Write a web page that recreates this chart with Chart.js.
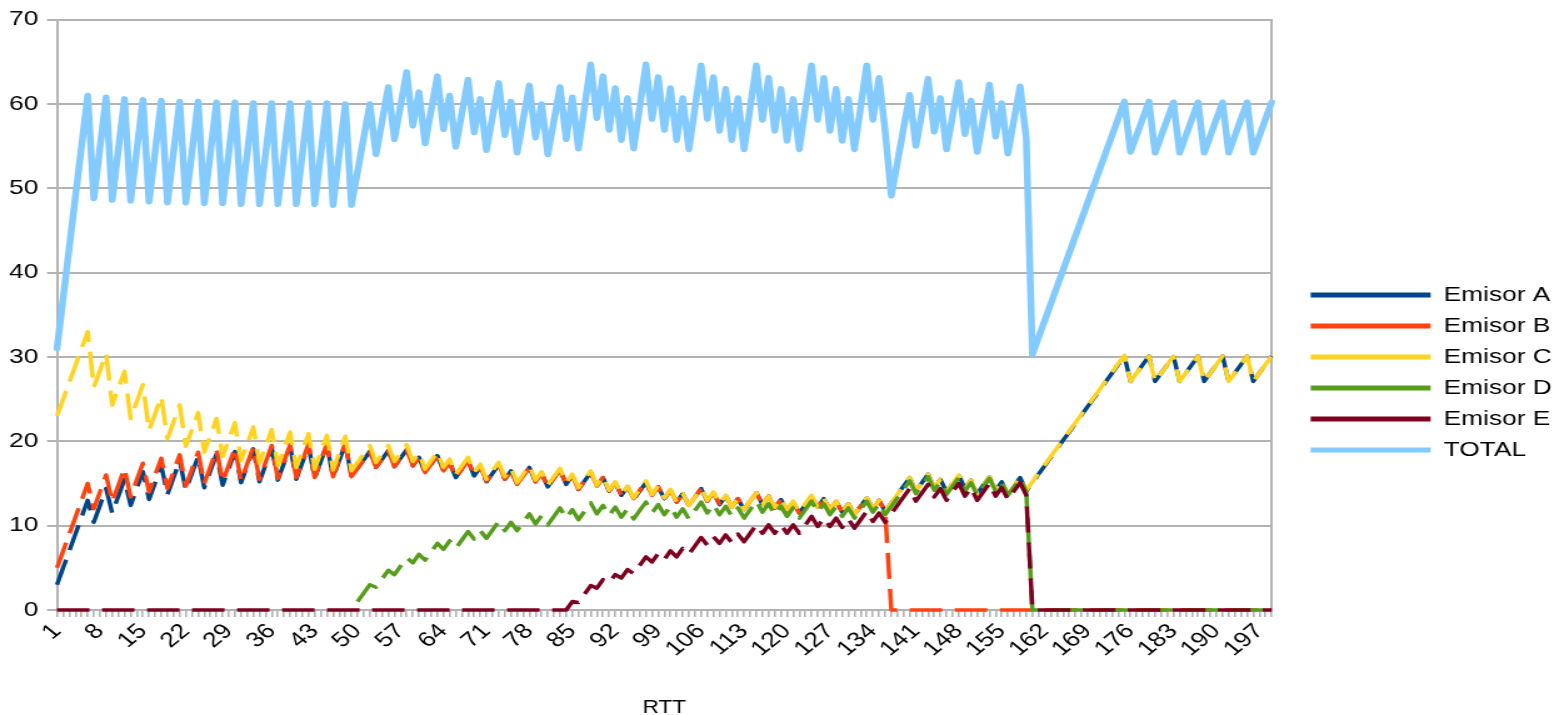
<!DOCTYPE html>
<html>
<head>
<meta charset="utf-8">
<title>Ventana de congestión por RTT</title>
<script src="https://cdn.jsdelivr.net/npm/chart.js@4.4.1/dist/chart.umd.min.js"></script>
<style>
    html, body { margin: 0; padding: 0; background: #ffffff; overflow: hidden; }
    /* the reference is stretched sideways, so the canvas is drawn narrower and widened */
    #marco { width: 1243px; height: 715px; transform: scaleX(1.2502); transform-origin: 0 0; }
</style>
</head>
<body>
<div id="marco"><canvas id="grafico"></canvas></div>
<script>
// ==============================
// Datos
// ==============================
const rtt = [
    1, 2, 3, 4, 5, 6, 7, 8, 9, 10, 11, 12, 13, 14, 15, 16, 17, 18, 19, 20,
    21, 22, 23, 24, 25, 26, 27, 28, 29, 30, 31, 32, 33, 34, 35, 36, 37, 38, 39, 40,
    41, 42, 43, 44, 45, 46, 47, 48, 49, 50, 51, 52, 53, 54, 55, 56, 57, 58, 59, 60,
    61, 62, 63, 64, 65, 66, 67, 68, 69, 70, 71, 72, 73, 74, 75, 76, 77, 78, 79, 80,
    81, 82, 83, 84, 85, 86, 87, 88, 89, 90, 91, 92, 93, 94, 95, 96, 97, 98, 99, 100,
    101, 102, 103, 104, 105, 106, 107, 108, 109, 110, 111, 112, 113, 114, 115, 116, 117, 118, 119, 120,
    121, 122, 123, 124, 125, 126, 127, 128, 129, 130, 131, 132, 133, 134, 135, 136, 137, 138, 139, 140,
    141, 142, 143, 144, 145, 146, 147, 148, 149, 150, 151, 152, 153, 154, 155, 156, 157, 158, 159, 160,
    161, 162, 163, 164, 165, 166, 167, 168, 169, 170, 171, 172, 173, 174, 175, 176, 177, 178, 179, 180,
    181, 182, 183, 184, 185, 186, 187, 188, 189, 190, 191, 192, 193, 194, 195, 196, 197, 198, 199
];

const emisorA = [
    3, 5, 7, 9, 11, 13, 10.4, 12.4, 14.4, 11.5,
    13.5, 15.5, 12.4, 14.4, 16.4, 13.1, 15.1, 17.1, 13.7, 15.7,
    17.7, 14.2, 16.2, 18.2, 14.5, 16.5, 18.5, 14.8, 16.8, 18.8,
    15.1, 17.1, 19.1, 15.2, 17.2, 19.2, 15.4, 17.4, 19.4, 15.5,
    17.5, 19.5, 15.6, 17.6, 19.6, 15.7, 17.7, 19.7, 15.8, 16.8,
    17.8, 18.8, 16.9, 17.9, 18.9, 17.0, 18.0, 19.0, 17.1, 18.1,
    16.3, 17.3, 18.3, 16.5, 17.5, 15.7, 16.7, 17.7, 15.9, 16.9,
    15.2, 16.2, 17.2, 15.5, 16.5, 14.9, 15.9, 16.9, 15.2, 16.2,
    14.6, 15.6, 16.6, 14.9, 15.9, 14.3, 15.3, 16.3, 14.7, 15.7,
    14.1, 15.1, 13.6, 14.6, 13.1, 14.1, 15.1, 13.6, 14.6, 13.2,
    14.2, 12.8, 13.8, 12.4, 13.4, 14.4, 12.9, 13.9, 12.5, 13.5,
    12.2, 13.2, 11.9, 12.9, 13.9, 12.5, 13.5, 12.1, 13.1, 11.8,
    12.8, 11.5, 12.5, 13.5, 12.2, 13.2, 11.9, 12.9, 11.6, 12.6,
    11.3, 12.3, 13.3, 12.0, 13.0, 11.7, 12.7, 13.7, 14.7, 15.7,
    14.1, 15.1, 16.1, 14.5, 15.5, 14.0, 15.0, 16.0, 14.4, 15.4,
    13.8, 14.8, 15.8, 14.2, 15.2, 13.7, 14.7, 15.7, 14.1, 15.1,
    16.1, 17.1, 18.1, 19.1, 20.1, 21.1, 22.1, 23.1, 24.1, 25.1,
    26.1, 27.1, 28.1, 29.1, 30.1, 27.1, 28.1, 29.1, 30.1, 27.1,
    28.1, 29.1, 30.1, 27.1, 28.1, 29.1, 30.1, 27.1, 28.1, 29.1,
    30.1, 27.1, 28.1, 29.1, 30.1, 27.1, 28.1, 29.1, 30.1
];

const emisorB = [
    5, 7, 9, 11, 13, 15, 12, 14, 16, 12.8,
    14.8, 16.8, 13.4, 15.4, 17.4, 14.0, 16.0, 18.0, 14.4, 16.4,
    18.4, 14.7, 16.7, 18.7, 15.0, 17.0, 19.0, 15.2, 17.2, 19.2,
    15.3, 17.3, 19.3, 15.5, 17.5, 19.5, 15.6, 17.6, 19.6, 15.7,
    17.7, 19.7, 15.7, 17.7, 19.7, 15.8, 17.8, 19.8, 15.8, 16.8,
    17.8, 18.8, 16.9, 17.9, 18.9, 17.0, 18.0, 19.0, 17.1, 18.1,
    16.3, 17.3, 18.3, 16.5, 17.5, 15.7, 16.7, 17.7, 16.0, 17.0,
    15.3, 16.3, 17.3, 15.5, 16.5, 14.9, 15.9, 16.9, 15.2, 16.2,
    14.6, 15.6, 16.6, 14.9, 15.9, 14.3, 15.3, 16.3, 14.7, 15.7,
    14.1, 15.1, 13.6, 14.6, 13.2, 14.2, 15.2, 13.6, 14.6, 13.2,
    14.2, 12.8, 13.8, 12.4, 13.4, 14.4, 12.9, 13.9, 12.6, 13.6,
    12.2, 13.2, 11.9, 12.9, 13.9, 12.5, 13.5, 12.1, 13.1, 11.8,
    12.8, 11.5, 12.5, 13.5, 12.2, 13.2, 11.9, 12.9, 11.6, 12.6,
    11.3, 12.3, 13.3, 12.0, 13.0, 11.7, 0, 0, 0, 0,
    0, 0, 0, 0, 0, 0, 0, 0, 0, 0,
    0, 0, 0, 0, 0, 0, 0, 0, 0, 0,
    0, 0, 0, 0, 0, 0, 0, 0, 0, 0,
    0, 0, 0, 0, 0, 0, 0, 0, 0, 0,
    0, 0, 0, 0, 0, 0, 0, 0, 0, 0,
    0, 0, 0, 0, 0, 0, 0, 0, 0
];

const emisorC = [
    23, 25, 27, 29, 31, 33, 26.4, 28.4, 30.4, 24.3,
    26.3, 28.3, 22.7, 24.7, 26.7, 21.3, 23.3, 25.3, 20.3, 22.3,
    24.3, 19.4, 21.4, 23.4, 18.7, 20.7, 22.7, 18.2, 20.2, 22.2,
    17.7, 19.7, 21.7, 17.4, 19.4, 21.4, 17.1, 19.1, 21.1, 16.9,
    18.9, 20.9, 16.7, 18.7, 20.7, 16.6, 18.6, 20.6, 16.5, 17.5,
    18.5, 19.5, 17.5, 18.5, 19.5, 17.6, 18.6, 19.6, 17.6, 18.6,
    16.7, 17.7, 18.7, 16.9, 17.9, 16.1, 17.1, 18.1, 16.3, 17.3,
    15.5, 16.5, 17.5, 15.8, 16.8, 15.1, 16.1, 17.1, 15.4, 16.4,
    14.8, 15.8, 16.8, 15.1, 16.1, 14.5, 15.5, 16.5, 14.8, 15.8,
    14.2, 15.2, 13.7, 14.7, 13.3, 14.3, 15.3, 13.7, 14.7, 13.3,
    14.3, 12.8, 13.8, 12.4, 13.4, 14.4, 13.0, 14.0, 12.6, 13.6,
    12.2, 13.2, 11.9, 12.9, 13.9, 12.5, 13.5, 12.2, 13.2, 11.9,
    12.9, 11.6, 12.6, 13.6, 12.2, 13.2, 11.9, 12.9, 11.6, 12.6,
    11.3, 12.3, 13.3, 12.0, 13.0, 11.7, 12.7, 13.7, 14.7, 15.7,
    14.1, 15.1, 16.1, 14.5, 15.5, 14.0, 15.0, 16.0, 14.4, 15.4,
    13.8, 14.8, 15.8, 14.3, 15.3, 13.7, 14.7, 15.7, 14.2, 15.2,
    16.2, 17.2, 18.2, 19.2, 20.2, 21.2, 22.2, 23.2, 24.2, 25.2,
    26.2, 27.2, 28.2, 29.2, 30.2, 27.1, 28.1, 29.1, 30.1, 27.1,
    28.1, 29.1, 30.1, 27.1, 28.1, 29.1, 30.1, 27.1, 28.1, 29.1,
    30.1, 27.1, 28.1, 29.1, 30.1, 27.1, 28.1, 29.1, 30.1
];

// D no existe hasta el RTT 50
const emisorD = [
    null, null, null, null, null, null, null, null, null, null,
    null, null, null, null, null, null, null, null, null, null,
    null, null, null, null, null, null, null, null, null, null,
    null, null, null, null, null, null, null, null, null, null,
    null, null, null, null, null, null, null, null, null, 1,
    2, 3, 2.7, 3.7, 4.7, 4.2, 5.2, 6.2, 5.6, 6.6,
    5.9, 6.9, 7.9, 7.2, 8.2, 7.3, 8.3, 9.3, 8.4, 9.4,
    8.5, 9.5, 10.5, 9.4, 10.4, 9.4, 10.4, 11.4, 10.2, 11.2,
    10.1, 11.1, 12.1, 10.9, 11.9, 10.7, 11.7, 12.7, 11.4, 12.4,
    11.2, 12.2, 11.0, 12.0, 10.8, 11.8, 12.8, 11.5, 12.5, 11.3,
    12.3, 11.0, 12.0, 10.8, 11.8, 12.8, 11.5, 12.5, 11.3, 12.3,
    11.1, 12.1, 10.9, 11.9, 12.9, 11.6, 12.6, 11.3, 12.3, 11.1,
    12.1, 10.9, 11.9, 12.9, 11.6, 12.6, 11.3, 12.3, 11.1, 12.1,
    10.9, 11.9, 12.9, 11.6, 12.6, 11.3, 12.3, 13.3, 14.3, 15.3,
    13.8, 14.8, 15.8, 14.2, 15.2, 13.7, 14.7, 15.7, 14.1, 15.1,
    13.6, 14.6, 15.6, 14.1, 15.1, 13.6, 14.6, 15.6, 14.0, 0,
    0, 0, 0, 0, 0, 0, 0, 0, 0, 0,
    0, 0, 0, 0, 0, 0, 0, 0, 0, 0,
    0, 0, 0, 0, 0, 0, 0, 0, 0, 0,
    0, 0, 0, 0, 0, 0, 0, 0, 0
];

const emisorE = [
    0, 0, 0, 0, 0, 0, 0, 0, 0, 0,
    0, 0, 0, 0, 0, 0, 0, 0, 0, 0,
    0, 0, 0, 0, 0, 0, 0, 0, 0, 0,
    0, 0, 0, 0, 0, 0, 0, 0, 0, 0,
    0, 0, 0, 0, 0, 0, 0, 0, 0, 0,
    0, 0, 0, 0, 0, 0, 0, 0, 0, 0,
    0, 0, 0, 0, 0, 0, 0, 0, 0, 0,
    0, 0, 0, 0, 0, 0, 0, 0, 0, 0,
    0, 0, 0, 0, 1, 0.9, 1.9, 2.9, 2.6, 3.6,
    3.2, 4.2, 3.8, 4.8, 4.3, 5.3, 6.3, 5.7, 6.7, 6.0,
    7.0, 6.3, 7.3, 6.6, 7.6, 8.6, 7.7, 8.7, 7.9, 8.9,
    8.0, 9.0, 8.1, 9.1, 10.1, 9.1, 10.1, 9.1, 10.1, 9.1,
    10.1, 9.1, 10.1, 11.1, 9.9, 10.9, 9.9, 10.9, 9.8, 10.8,
    9.7, 10.7, 11.7, 10.5, 11.5, 10.4, 11.4, 12.4, 13.4, 14.4,
    12.9, 13.9, 14.9, 13.4, 14.4, 13.0, 14.0, 15.0, 13.5, 14.5,
    13.0, 14.0, 15.0, 13.5, 14.5, 13.1, 14.1, 15.1, 13.6, 0,
    0, 0, 0, 0, 0, 0, 0, 0, 0, 0,
    0, 0, 0, 0, 0, 0, 0, 0, 0, 0,
    0, 0, 0, 0, 0, 0, 0, 0, 0, 0,
    0, 0, 0, 0, 0, 0, 0, 0, 0
];

const total = [
    31, 37, 43, 49, 55, 61, 48.8, 54.8, 60.8, 48.6,
    54.6, 60.6, 48.5, 54.5, 60.5, 48.4, 54.4, 60.4, 48.3, 54.3,
    60.3, 48.3, 54.3, 60.3, 48.2, 54.2, 60.2, 48.2, 54.2, 60.2,
    48.1, 54.1, 60.1, 48.1, 54.1, 60.1, 48.1, 54.1, 60.1, 48.1,
    54.1, 60.1, 48.1, 54.1, 60.1, 48.0, 54.0, 60.0, 48.0, 52.0,
    56.0, 60.0, 54.0, 58.0, 62.0, 55.8, 59.8, 63.8, 57.4, 61.4,
    55.3, 59.3, 63.3, 57.0, 61.0, 54.9, 58.9, 62.9, 56.6, 60.6,
    54.5, 58.5, 62.5, 56.3, 60.3, 54.2, 58.2, 62.2, 56.0, 60.0,
    54.0, 58.0, 62.0, 55.8, 60.8, 54.7, 59.7, 64.7, 58.3, 63.3,
    56.9, 61.9, 55.7, 60.7, 54.7, 59.7, 64.7, 58.2, 63.2, 56.9,
    61.9, 55.7, 60.7, 54.6, 59.6, 64.6, 58.2, 63.2, 56.8, 61.8,
    55.7, 60.7, 54.6, 59.6, 64.6, 58.1, 63.1, 56.8, 61.8, 55.6,
    60.6, 54.6, 59.6, 64.6, 58.1, 63.1, 56.8, 61.8, 55.6, 60.6,
    54.6, 59.6, 64.6, 58.1, 63.1, 56.8, 49.1, 53.1, 57.1, 61.1,
    55.0, 59.0, 63.0, 56.7, 60.7, 54.6, 58.6, 62.6, 56.4, 60.4,
    54.3, 58.3, 62.3, 56.1, 60.1, 54.1, 58.1, 62.1, 55.9, 30.3,
    32.3, 34.3, 36.3, 38.3, 40.3, 42.3, 44.3, 46.3, 48.3, 50.3,
    52.3, 54.3, 56.3, 58.3, 60.3, 54.3, 56.3, 58.3, 60.3, 54.2,
    56.2, 58.2, 60.2, 54.2, 56.2, 58.2, 60.2, 54.2, 56.2, 58.2,
    60.2, 54.2, 56.2, 58.2, 60.2, 54.2, 56.2, 58.2, 60.2
];

// ==============================
// Estilo
// ==============================
const fuente = "'Liberation Sans', Arial, sans-serif";
const gris = "#b3b3b3";
const guiones = [26, 10];

function serie(nombre, datos, color, orden) {
    return {
        label: nombre,
        data: datos,
        borderColor: color,
        backgroundColor: color,
        borderWidth: 3.5,
        borderDash: guiones,
        borderJoinStyle: "round",
        pointRadius: 0,
        tension: 0,
        fill: false,
        clip: false,   // the zero lines sit on the axis, not half hidden under it
        order: orden
    };
}

const datasets = [
    serie("Emisor A", emisorA, "#004586", 6),
    serie("Emisor B", emisorB, "#ff420e", 5),
    serie("Emisor C", emisorC, "#ffd320", 4),
    serie("Emisor D", emisorD, "#579d1c", 3),
    serie("Emisor E", emisorE, "#7e0021", 2),
    {
        label: "TOTAL",
        data: total,
        borderColor: "#83caff",
        backgroundColor: "#83caff",
        borderWidth: 5.5,
        borderJoinStyle: "round",
        borderCapStyle: "round",
        pointRadius: 0,
        tension: 0,
        fill: false,
        clip: false,
        order: 1
    }
];

new Chart(document.getElementById("grafico"), {
    type: "line",
    data: { labels: rtt, datasets: datasets },
    options: {
        responsive: true,
        maintainAspectRatio: false,
        devicePixelRatio: 1,
        animation: false,
        layout: { padding: { top: 17, right: -3, bottom: -13, left: 0 } },
        plugins: {
            tooltip: { enabled: false },
            legend: {
                position: "right",
                labels: {
                    boxWidth: 96,
                    boxHeight: 5,
                    padding: 10,
                    color: "#000",
                    font: { family: fuente, size: 21 },
                    generateLabels: function (chart) {
                        return chart.data.datasets.map(function (ds, i) {
                            return {
                                text: ds.label,
                                fillStyle: ds.borderColor,
                                strokeStyle: ds.borderColor,
                                lineWidth: 0,
                                lineDash: [],
                                hidden: false,
                                fontColor: "#000",
                                datasetIndex: i
                            };
                        });
                    }
                }
            }
        },
        scales: {
            x: {
                afterFit: function (scale) { scale.height = 118; },
                grid: { drawOnChartArea: false, drawTicks: true, tickLength: 7, color: gris, lineWidth: 1.6 },
                border: { color: gris, width: 2 },
                ticks: {
                    autoSkip: false,
                    maxRotation: 45,
                    minRotation: 45,
                    padding: 2,
                    color: "#000",
                    font: { family: fuente, size: 21 },
                    callback: function (valor, indice) {
                        return indice % 7 === 0 ? this.getLabelForValue(valor) : "";
                    }
                },
                title: {
                    display: true,
                    text: "RTT",
                    color: "#000",
                    font: { family: fuente, size: 18 },
                    padding: { top: 0, bottom: 9 }
                }
            },
            y: {
                min: 0,
                max: 70,
                afterFit: function (scale) { scale.width = 45.6; },
                grid: { color: gris, lineWidth: 2, tickLength: 8 },
                border: { color: gris, width: 2 },
                ticks: { stepSize: 10, padding: 7, color: "#000", font: { family: fuente, size: 21 } }
            },
            // eje vacío: sólo da el borde derecho y el hueco antes de la leyenda
            y2: {
                position: "right",
                afterFit: function (scale) { scale.width = 21.2; },
                grid: { display: false },
                border: { display: true, color: gris, width: 2 },
                ticks: { display: false }
            }
        }
    }
});
</script>
</body>
</html>
